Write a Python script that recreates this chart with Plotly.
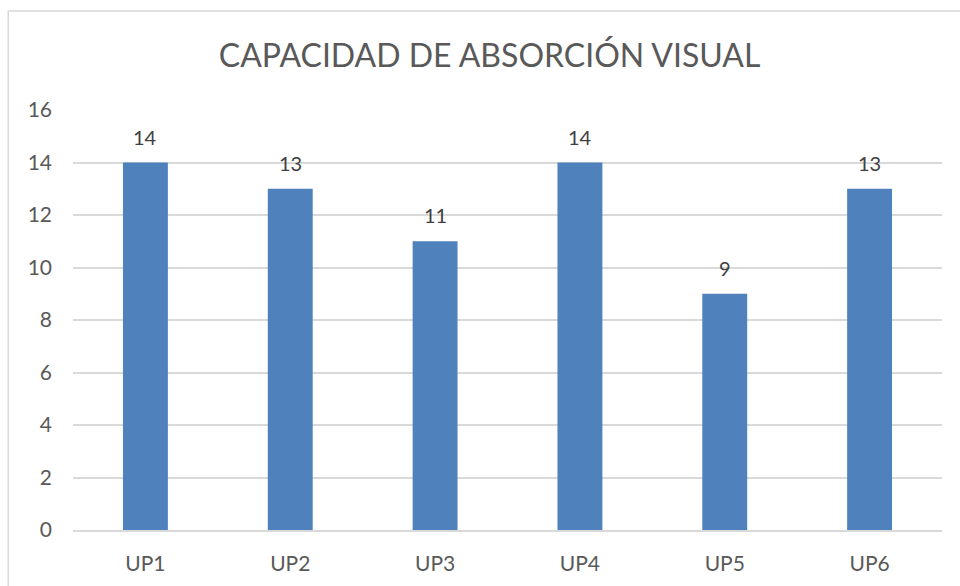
import plotly.graph_objects as go

categories = ["UP1", "UP2", "UP3", "UP4", "UP5", "UP6"]
values = [14, 13, 11, 14, 9, 13]
y_ticks = [0, 2, 4, 6, 8, 10, 12, 14, 16]

TEXT = "#595959"
FONT = "Lato, Open Sans, sans-serif"

fig = go.Figure()
fig.add_trace(go.Bar(x=categories, y=values, marker=dict(color="#4F81BD", line=dict(width=0)),
                     hoverinfo="x+y"))

for c, v in zip(categories, values):
    fig.add_annotation(x=c, y=v, text=str(v), showarrow=False, yanchor="bottom",
                       yshift=12, font=dict(size=20, color="#404040", family=FONT))

fig.update_layout(
    width=960, height=586,
    margin=dict(l=73, r=18, t=110, b=56),
    paper_bgcolor="white", plot_bgcolor="white",
    bargap=0.69,
    showlegend=False,
    title=dict(text="CAPACIDAD DE ABSORCIÓN VISUAL", x=0.51, xanchor="center",
               y=0.905, yanchor="middle",
               font=dict(size=32, color=TEXT, family=FONT)),
    font=dict(family=FONT, color=TEXT),
    xaxis=dict(showgrid=False, showline=True, linecolor="#D9D9D9", linewidth=1.5,
               tickfont=dict(size=21, color=TEXT), ticks="", ticklabelstandoff=14),
    yaxis=dict(range=[0, 16], tickvals=y_ticks, showgrid=True, gridcolor="#D9D9D9",
               gridwidth=1.5, zeroline=False, showline=False,
               tickfont=dict(size=21, color=TEXT), ticks="", ticklabelstandoff=20),
    shapes=[dict(type="rect", xref="paper", yref="paper",
                 x0=-0.0745, x1=1.2, y0=-0.2, y1=1.236,
                 line=dict(color="#D9D9D9", width=1.5), fillcolor="rgba(0,0,0,0)", layer="below")],
)

fig.write_html("out.html", config={"displayModeBar": False},
               post_script="document.body.style.margin='0';")
